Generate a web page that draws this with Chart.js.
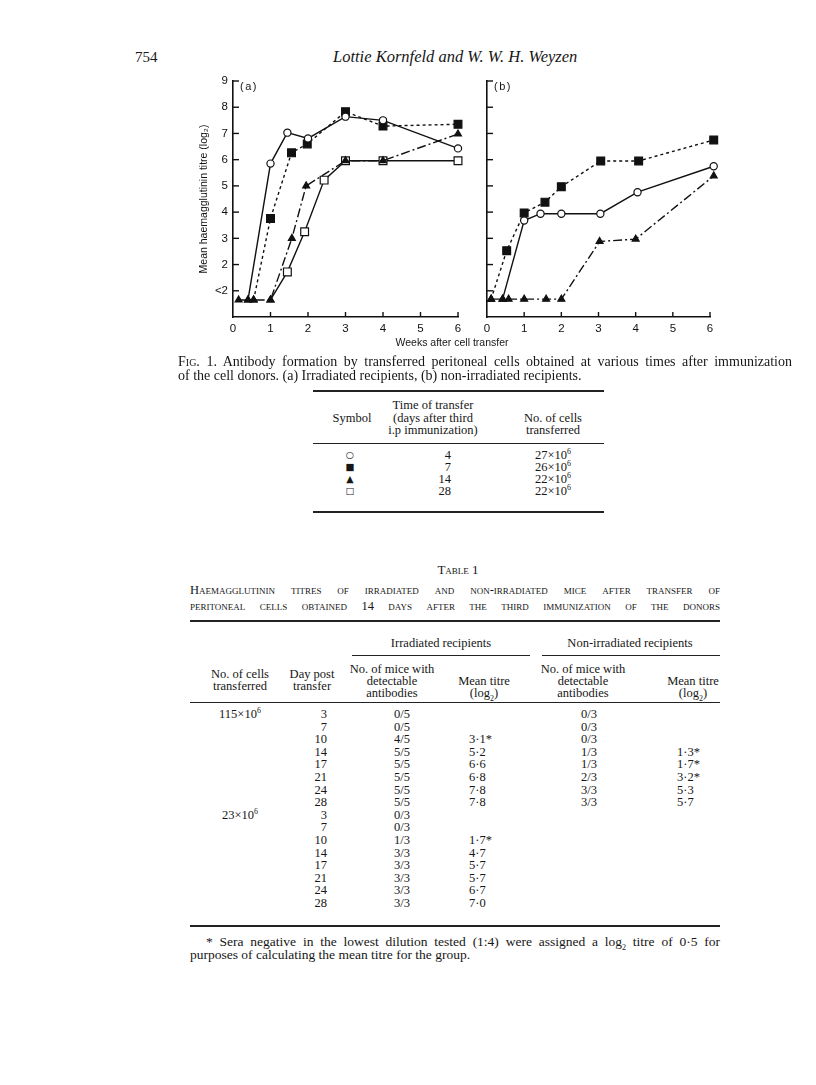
<!DOCTYPE html>
<html>
<head>
<meta charset="utf-8">
<script src="https://cdn.jsdelivr.net/npm/chart.js@4"></script>
<style>
body { margin:0; width:816px; height:1085px; background:#fff; position:relative; overflow:hidden;
       font-family:"Liberation Serif", serif; color:#161616; }
.t { position:absolute; white-space:nowrap; font-size:12.5px; line-height:12px; }
.c { transform:translateX(-50%); text-align:center; }
.r { transform:translateX(-100%); }
.j { position:absolute; white-space:nowrap; font-size:12.5px; line-height:13px; text-align:justify; text-align-last:justify; }
.sc { font-variant:small-caps; }
.rule { position:absolute; border-top:1px solid #222; height:0; }
.thick { border-top-width:2px; }
.sans { font-family:"Liberation Sans", sans-serif; }
canvas { position:absolute; }
sup { font-size:8px; vertical-align:5px; line-height:0; }
sub { font-size:8px; line-height:0; }
</style>
</head>
<body>

<div class="t" style="left:135px;top:49px;font-size:15px;line-height:16px">754</div>
<div class="t" style="left:333px;top:49px;font-size:16.5px;line-height:16px;font-style:italic">Lottie Kornfeld and W. W. H. Weyzen</div>

<canvas id="figA" width="285" height="290" style="left:185px;top:66px"></canvas>
<canvas id="figB" width="250" height="290" style="left:478px;top:66px"></canvas>

<div class="t sans" style="left:240px;top:80px;font-size:11px;letter-spacing:1.5px">(a)</div>
<div class="t sans" style="left:494px;top:80px;font-size:11px;letter-spacing:1.5px">(b)</div>
<div class="t sans c" style="left:452px;top:336px;font-size:10.5px">Weeks after cell transfer</div>

<div class="j" style="left:178px;top:355px;width:614px;font-size:14px;line-height:14px">F<span class="sc">ig</span>. 1. Antibody formation by transferred peritoneal cells obtained at various times after immunization</div>
<div class="t" style="left:178px;top:369px;font-size:14px;line-height:14px">of the cell donors. (a) Irradiated recipients, (b) non-irradiated recipients.</div>

<!-- symbol key -->
<div class="rule thick" style="left:313px;top:390px;width:291px"></div>
<div class="t c" style="left:352px;top:412px">Symbol</div>
<div class="t c" style="left:433px;top:399px">Time of transfer</div>
<div class="t c" style="left:433px;top:412px">(days after third</div>
<div class="t c" style="left:433px;top:424px">i.p immunization)</div>
<div class="t c" style="left:553px;top:412px">No. of cells</div>
<div class="t c" style="left:553px;top:424px">transferred</div>
<div class="rule" style="left:313px;top:443px;width:291px"></div>
<div id="key"></div>
<div class="rule thick" style="left:313px;top:511px;width:291px"></div>

<!-- table 1 -->
<div class="t c sc" style="left:458px;top:564px;font-size:13px">Table 1</div>
<div class="j sc" style="left:190px;top:584px;width:530px;font-size:12.5px">Haemagglutinin titres of irradiated and non-irradiated mice after transfer of</div>
<div class="j sc" style="left:190px;top:600px;width:530px;font-size:12.5px">peritoneal cells obtained 14 days after the third immunization of the donors</div>
<div class="rule thick" style="left:190px;top:620px;width:530px"></div>
<div class="t c" style="left:441px;top:637px">Irradiated recipients</div>
<div class="t c" style="left:630px;top:637px">Non-irradiated recipients</div>
<div class="rule" style="left:352px;top:655px;width:178px"></div>
<div class="rule" style="left:542px;top:655px;width:178px"></div>
<div class="t c" style="left:240px;top:668px">No. of cells</div>
<div class="t c" style="left:240px;top:680px">transferred</div>
<div class="t c" style="left:312px;top:668px">Day post</div>
<div class="t c" style="left:312px;top:680px">transfer</div>
<div class="t c" style="left:392px;top:663px">No. of mice with</div>
<div class="t c" style="left:392px;top:675px">detectable</div>
<div class="t c" style="left:392px;top:687px">antibodies</div>
<div class="t c" style="left:484px;top:675px">Mean titre</div>
<div class="t c" style="left:484px;top:687px">(log<sub>2</sub>)</div>
<div class="t c" style="left:583px;top:663px">No. of mice with</div>
<div class="t c" style="left:583px;top:675px">detectable</div>
<div class="t c" style="left:583px;top:687px">antibodies</div>
<div class="t c" style="left:693px;top:675px">Mean titre</div>
<div class="t c" style="left:693px;top:687px">(log<sub>2</sub>)</div>
<div class="rule" style="left:190px;top:702px;width:530px"></div>
<div id="rows"></div>
<div class="rule thick" style="left:190px;top:925px;width:530px"></div>
<div class="j" style="left:206px;top:935px;width:514px;font-size:13.5px;line-height:13px">* Sera negative in the lowest dilution tested (1:4) were assigned a log<sub>2</sub> titre of 0·5 for</div>
<div class="t" style="left:190px;top:948px;font-size:13.5px;line-height:13px">purposes of calculating the mean titre for the group.</div>

<script>
// Fig. 1 (a) irradiated recipients: weeks after transfer and mean titre (log2)
const weeksA4 = [0.4, 1.0, 1.45, 2.0, 3.0, 4.0, 6.0];
const titreA4 = [0.65, 5.85, 7.03, 6.81, 7.64, 7.5, 6.43];
const weeksA7 = [0.55, 1.0, 1.56, 1.98, 3.0, 4.0, 6.0];
const titreA7 = [0.65, 3.76, 6.26, 6.6, 7.83, 7.28, 7.35];
const weeksA14 = [0.15, 0.4, 0.55, 1.0, 1.57, 1.95, 3.0, 4.0, 6.0];
const titreA14 = [0.65, 0.65, 0.65, 0.65, 3.0, 5.0, 5.96, 5.96, 6.98];
const weeksA28 = [1.0, 1.45, 1.91, 2.43, 3.0, 4.0, 6.0];
const titreA28 = [0.65, 1.72, 3.25, 5.22, 5.96, 5.96, 5.96];

// Fig. 1 (b) non-irradiated recipients
const weeksB4 = [0.42, 1.0, 1.44, 2.0, 3.05, 4.05, 6.1];
const titreB4 = [0.68, 3.68, 3.94, 3.94, 3.94, 4.76, 5.75];
const weeksB7 = [0.11, 0.53, 1.0, 1.56, 2.0, 3.06, 4.08, 6.1];
const titreB7 = [0.68, 2.53, 3.97, 4.38, 4.97, 5.95, 5.95, 6.75];
const weeksB14 = [0.11, 0.42, 0.58, 1.0, 1.59, 2.0, 3.03, 4.0, 6.1];
const titreB14 = [0.68, 0.68, 0.68, 0.68, 0.68, 0.68, 2.88, 2.97, 5.38];

const yTicks = [1, 2, 3, 4, 5, 6, 7, 8, 9];
const xTicks = [0, 1, 2, 3, 4, 5, 6];

// symbol key
const keySymbols = ['○', '■', '▲', '□'];
const keyDays = ['4', '7', '14', '28'];
const keyCells = ['27', '26', '22', '22'];

// table 1
const t1Days = [3, 7, 10, 14, 17, 21, 24, 28];
const irr115Mice = ['0/5', '0/5', '4/5', '5/5', '5/5', '5/5', '5/5', '5/5'];
const irr115Titre = ['', '', '3·1*', '5·2', '6·6', '6·8', '7·8', '7·8'];
const non115Mice = ['0/3', '0/3', '0/3', '1/3', '1/3', '2/3', '3/3', '3/3'];
const non115Titre = ['', '', '', '1·3*', '1·7*', '3·2*', '5·3', '5·7'];
const irr23Mice = ['0/3', '0/3', '1/3', '3/3', '3/3', '3/3', '3/3', '3/3'];
const irr23Titre = ['', '', '1·7*', '4·7', '5·7', '5·7', '6·7', '7·0'];

let key = '';
keySymbols.forEach((s, i) => {
    const top = 449 + i * 12;
    key += `<div class="t c" style="left:350px;top:${top}px;font-family:'DejaVu Sans';font-size:9.5px">${s}</div>`;
    key += `<div class="t r" style="left:451px;top:${top}px">${keyDays[i]}</div>`;
    key += `<div class="t c" style="left:553px;top:${top}px">${keyCells[i]}×10<sup>6</sup></div>`;
});
document.getElementById('key').innerHTML = key;

let rows = '';
function addGroup(start, cells, mice, titre, nMice, nTitre) {
    t1Days.forEach((d, i) => {
        const top = 708 + (start + i) * 12.6;
        if (i === 0) rows += `<div class="t c" style="left:240px;top:${top}px">${cells}×10<sup>6</sup></div>`;
        rows += `<div class="t r" style="left:327px;top:${top}px">${d}</div>`;
        rows += `<div class="t c" style="left:402px;top:${top}px">${mice[i]}</div>`;
        rows += `<div class="t" style="left:469px;top:${top}px">${titre[i]}</div>`;
        if (nMice) rows += `<div class="t c" style="left:589px;top:${top}px">${nMice[i]}</div>`;
        if (nTitre) rows += `<div class="t" style="left:677px;top:${top}px">${nTitre[i]}</div>`;
    });
}
addGroup(0, '115', irr115Mice, irr115Titre, non115Mice, non115Titre);
addGroup(8, '23', irr23Mice, irr23Titre, null, null);
document.getElementById('rows').innerHTML = rows;

// points below "<2" are drawn as triangles in every series
function pts(w, t) { return w.map((x, i) => ({x: x, y: t[i]})); }
function series(w, t, style, fill, dash) {
    const styleOf = ctx => ctx.raw && ctx.raw.y < 1 ? 'triangle' : style;
    return {
        data: pts(w, t),
        borderColor: '#111',
        borderWidth: 1.4,
        borderDash: dash,
        tension: 0,
        clip: false,
        pointStyle: styleOf,
        pointRadius: ctx => {
            const s = styleOf(ctx);
            return s === 'rect' ? 5.5 : s === 'triangle' ? 4 : 3.6;
        },
        pointBackgroundColor: ctx => ctx.raw && ctx.raw.y < 1 ? '#111' : fill,
        pointBorderColor: '#111',
        pointBorderWidth: 1.2
    };
}

const inwardTicks = {
    id: 'inwardTicks',
    afterDraw(chart) {
        const {ctx, scales: {x, y}} = chart;
        ctx.save();
        ctx.strokeStyle = '#111';
        ctx.lineWidth = 1.4;
        y.ticks.forEach(t => {
            if (t.value === 0) return;
            const py = y.getPixelForValue(t.value);
            ctx.beginPath(); ctx.moveTo(x.left, py); ctx.lineTo(x.left + 6, py); ctx.stroke();
        });
        x.ticks.forEach(t => {
            if (t.value === 0) return;
            const px = x.getPixelForValue(t.value);
            ctx.beginPath(); ctx.moveTo(px, y.bottom); ctx.lineTo(px, y.bottom - 5); ctx.stroke();
        });
        ctx.restore();
    }
};

function options(withLabels, yWidth, pad) {
    return {
        responsive: false,
        animation: false,
        layout: {padding: pad},
        plugins: {legend: {display: false}, tooltip: {enabled: false}},
        scales: {
            x: {
                type: 'linear', min: 0, max: 6,
                afterBuildTicks: s => { s.ticks = xTicks.map(v => ({value: v})); },
                grid: {drawOnChartArea: false, drawTicks: false},
                border: {color: '#111', width: 1.6},
                ticks: {padding: 5, color: '#111', font: {family: 'Liberation Sans', size: 11.5}},
                afterFit: s => { s.height = 39; }
            },
            y: {
                type: 'linear', min: 0, max: 9,
                afterBuildTicks: s => { s.ticks = yTicks.map(v => ({value: v})); },
                grid: {drawOnChartArea: false, drawTicks: false},
                border: {color: '#111', width: 1.6},
                ticks: {
                    display: withLabels, padding: 5, color: '#111',
                    font: {family: 'Liberation Sans', size: 11.5},
                    callback: v => v === 1 ? '<2' : v
                },
                title: {
                    display: withLabels, text: 'Mean haemagglutinin titre (log₂)',
                    color: '#111', padding: 0, font: {family: 'Liberation Sans', size: 10.5}
                },
                afterFit: s => { s.width = yWidth; }
            }
        }
    };
}

new Chart(document.getElementById('figA'), {
    type: 'line',
    data: {
        datasets: [
            series(weeksA4, titreA4, 'circle', '#fff', []),
            series(weeksA7, titreA7, 'rect', '#111', [3, 3]),
            series(weeksA14, titreA14, 'triangle', '#111', [9, 3, 2, 3]),
            series(weeksA28, titreA28, 'rect', '#fff', [])
        ]
    },
    options: options(true, 35, {left: 13, top: 15, right: 12, bottom: 0}),
    plugins: [inwardTicks]
});

new Chart(document.getElementById('figB'), {
    type: 'line',
    data: {
        datasets: [
            series(weeksB4, titreB4, 'circle', '#fff', []),
            series(weeksB7, titreB7, 'rect', '#111', [3, 3]),
            series(weeksB14, titreB14, 'triangle', '#111', [9, 3, 2, 3])
        ]
    },
    options: options(false, 9, {left: 0, top: 15, right: 18, bottom: 0}),
    plugins: [inwardTicks]
});
</script>
</body>
</html>
